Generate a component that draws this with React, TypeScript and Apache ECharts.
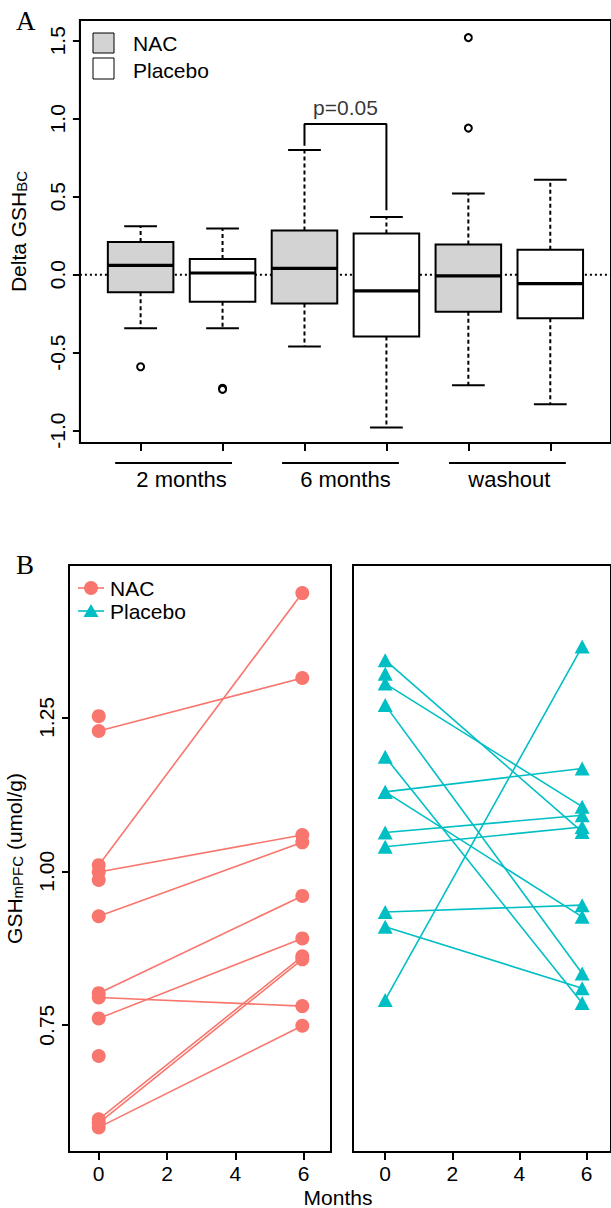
import React, { useEffect, useRef } from "react";
import * as echarts from "echarts";

// ---------- Panel A data ----------
const groupLabels = ["2 months", "6 months", "washout"];
const groupCenters = [1.5, 3.5, 5.5];
const groupSpanStart = [0.8, 2.8, 4.8];
const groupSpanEnd = [2.2, 4.2, 6.2];
const boxPositions = [1, 2, 3, 4, 5, 6];
const boxArm = [0, 1, 0, 1, 0, 1]; // 0 = NAC, 1 = Placebo
const boxLowerWhisker = [-0.343, -0.343, -0.46, -0.98, -0.709, -0.83];
const boxQ1 = [-0.113, -0.174, -0.185, -0.396, -0.238, -0.279];
const boxMedian = [0.06, 0.011, 0.04, -0.104, -0.008, -0.057];
const boxQ3 = [0.21, 0.1, 0.283, 0.264, 0.193, 0.16];
const boxUpperWhisker = [0.31, 0.296, 0.8, 0.37, 0.52, 0.609];
const outlierPos = [1, 2, 2, 5, 5];
const outlierVal = [-0.59, -0.728, -0.735, 0.94, 1.52];
const deltaTicks = [-1, -0.5, 0, 0.5, 1, 1.5];
const bracketX = [3, 3, 4, 4];
const bracketY = [0.826, 0.966, 0.966, 0.413];
const pText = "p=0.05";
const pTextX = 3.5;
const pTextY = 1.074;

// ---------- Panel B data ----------
const nacMonths = [0, 5.96];
const plaMonths = [0, 5.87];
const nacMonth0 = [1.252, 1.228, 1.01, 0.999, 0.986, 0.927, 0.802, 0.795, 0.761, 0.7, 0.597, 0.591, 0.584];
const nacMonth6 = [1.452, 1.314, 1.059, 1.047, 0.96, 0.891, 0.862, 0.857, 0.781, 0.749];
const nacPairStart = [1.228, 1.01, 0.999, 0.927, 0.802, 0.795, 0.761, 0.597, 0.591, 0.584];
const nacPairEnd = [1.314, 1.452, 1.059, 1.047, 0.96, 0.781, 0.891, 0.862, 0.857, 0.749];
const plaMonth0 = [1.343, 1.321, 1.305, 1.27, 1.186, 1.129, 1.129, 1.063, 1.04, 0.934, 0.91, 0.791];
const plaMonth6 = [1.365, 1.167, 1.105, 1.091, 1.072, 1.064, 0.945, 0.926, 0.834, 0.81, 0.786];
const plaPairStart = [0.791, 1.343, 1.305, 1.27, 1.186, 1.129, 1.129, 1.063, 1.04, 0.934, 0.91];
const plaPairEnd = [1.365, 1.064, 1.105, 0.834, 0.786, 1.167, 0.926, 1.091, 1.072, 0.945, 0.81];
const monthTicks = [0, 2, 4, 6];
const gshTicks = [0.75, 1.0, 1.25];

const FONT = "'Liberation Sans', Arial, sans-serif";
const SERIF = "'Liberation Serif', 'Times New Roman', serif";
const NAC_COLOR = "#F8766D";
const PLA_COLOR = "#00BFC4";
const BOX_FILL = ["#D3D3D3", "#FFFFFF"];

const A_XMIN = 0.259, A_XMAX = 6.741, A_YMIN = -1.079, A_YMAX = 1.633;
const B_YMIN = 0.544, B_YMAX = 1.4976;

export default function App() {
  const ref = useRef<HTMLDivElement>(null);
  useEffect(() => {
    if (!ref.current) return;
    document.body.style.margin = "0";
    const chart = echarts.init(ref.current, undefined, { renderer: "svg" });
    const axisLineStyle = { color: "#000", width: 2 };
    const axisLine = { show: true, onZero: false, lineStyle: axisLineStyle };
    const labelBase = { color: "#000", fontSize: 21, fontFamily: FONT };
    const subRich = {
      a: { fontSize: 21, fontFamily: FONT, color: "#000", lineHeight: 21, padding: [0, 0, 10, 0], verticalAlign: "top" },
      b: { fontSize: 15, fontFamily: FONT, color: "#000", lineHeight: 15, verticalAlign: "bottom" },
    };

    const boxData = boxPositions.map((p, i) => [
      p, boxLowerWhisker[i], boxQ1[i], boxMedian[i], boxQ3[i], boxUpperWhisker[i], boxArm[i],
    ]);

    const option: any = {
      animation: false,
      backgroundColor: "#fff",
      grid: [
        { left: 70, top: 20, width: 545, height: 423, show: true, borderColor: "#000", borderWidth: 2, backgroundColor: "transparent" },
        { left: 69, top: 565, width: 262, height: 587, show: true, borderColor: "#000", borderWidth: 2, backgroundColor: "transparent" },
        { left: 353, top: 565, width: 262, height: 587, show: true, borderColor: "#000", borderWidth: 2, backgroundColor: "transparent" },
        { left: 70, top: 463, width: 545, height: 10, show: false },
      ],
      xAxis: [
        {
          gridIndex: 0, type: "value", min: A_XMIN, max: A_XMAX,
          axisLine,
          axisTick: { show: true, customValues: boxPositions, length: 8, lineStyle: axisLineStyle },
          axisLabel: {
            ...labelBase, fontSize: 22, show: true, customValues: groupCenters, margin: 25,
            formatter: (v: number) => groupLabels[groupCenters.indexOf(v)] ?? "",
          },
          splitLine: { show: false },
        },
        {
          gridIndex: 1, type: "value", min: -0.87, max: 6.8,
          axisLine,
          axisTick: { show: true, customValues: monthTicks, length: 8, lineStyle: axisLineStyle },
          axisLabel: { ...labelBase, customValues: monthTicks, margin: 11 },
          splitLine: { show: false },
        },
        {
          gridIndex: 2, type: "value", min: -0.96, max: 6.73,
          axisLine,
          axisTick: { show: true, customValues: monthTicks, length: 8, lineStyle: axisLineStyle },
          axisLabel: { ...labelBase, customValues: monthTicks, margin: 11 },
          splitLine: { show: false },
        },
        { gridIndex: 3, type: "value", min: A_XMIN, max: A_XMAX, show: false },
      ],
      yAxis: [
        {
          gridIndex: 0, type: "value", min: A_YMIN, max: A_YMAX,
          axisLine,
          axisTick: { show: true, customValues: deltaTicks, length: 7, lineStyle: axisLineStyle },
          axisLabel: { ...labelBase, customValues: deltaTicks, rotate: 90, margin: 12, formatter: (v: number) => v.toFixed(1) },
          splitLine: { show: false },
          name: "{a|Delta GSH}{b|BC}",
          nameLocation: "middle", nameRotate: 90, nameGap: 38,
          nameTextStyle: { rich: subRich },
        },
        {
          gridIndex: 1, type: "value", min: B_YMIN, max: B_YMAX,
          axisLine,
          axisTick: { show: true, customValues: gshTicks, length: 7, lineStyle: axisLineStyle },
          axisLabel: { ...labelBase, customValues: gshTicks, rotate: 90, margin: 12, formatter: (v: number) => v.toFixed(2) },
          splitLine: { show: false },
          name: "{a|GSH}{b|mPFC}{a| (umol/g)}",
          nameLocation: "middle", nameRotate: 90, nameGap: 38,
          nameTextStyle: { rich: subRich },
        },
        {
          gridIndex: 2, type: "value", min: B_YMIN, max: B_YMAX,
          axisLine,
          axisTick: { show: false }, axisLabel: { show: false }, splitLine: { show: false },
        },
        { gridIndex: 3, type: "value", min: 0, max: 1, show: false },
      ],
      series: [
        {
          type: "line", xAxisIndex: 0, yAxisIndex: 0, z: 1, silent: true, symbol: "none",
          data: [[A_XMIN, 0], [A_XMAX, 0]],
          lineStyle: { color: "#000", width: 2, type: [2, 3] },
        },
        {
          type: "custom", xAxisIndex: 0, yAxisIndex: 0, z: 2, silent: true,
          data: boxData,
          renderItem: (params: any, api: any) => {
            const x = api.value(0), lw = api.value(1), q1 = api.value(2), md = api.value(3);
            const q3 = api.value(4), uw = api.value(5), arm = api.value(6);
            const c = (a: number, b: number) => api.coord([a, b]);
            const seg = (p1: number[], p2: number[], style: any) => ({
              type: "line", shape: { x1: p1[0], y1: p1[1], x2: p2[0], y2: p2[1] }, style,
            });
            const solid = { stroke: "#000", lineWidth: 2 };
            const dashed = { stroke: "#000", lineWidth: 2, lineDash: [4, 3] };
            const tl = c(x - 0.4, q3), br = c(x + 0.4, q1);
            return {
              type: "group",
              children: [
                seg(c(x, q3), c(x, uw), dashed),
                seg(c(x, q1), c(x, lw), dashed),
                seg(c(x - 0.2, uw), c(x + 0.2, uw), solid),
                seg(c(x - 0.2, lw), c(x + 0.2, lw), solid),
                {
                  type: "rect",
                  shape: { x: tl[0], y: tl[1], width: br[0] - tl[0], height: br[1] - tl[1] },
                  style: { fill: BOX_FILL[arm], stroke: "#000", lineWidth: 2 },
                },
                seg(c(x - 0.4, md), c(x + 0.4, md), { stroke: "#000", lineWidth: 3.2 }),
              ],
            };
          },
        },
        {
          type: "scatter", xAxisIndex: 0, yAxisIndex: 0, z: 4, silent: true,
          symbol: "emptyCircle", symbolSize: 7,
          itemStyle: { color: "#000", borderColor: "#000", borderWidth: 1.7, opacity: 1 },
          data: outlierPos.map((p, i) => [p, outlierVal[i]]),
        },
        {
          type: "line", xAxisIndex: 0, yAxisIndex: 0, z: 3, silent: true, symbol: "none",
          data: bracketX.map((x, i) => [x, bracketY[i]]),
          lineStyle: { color: "#000", width: 2 },
        },
        {
          type: "scatter", xAxisIndex: 0, yAxisIndex: 0, z: 3, silent: true, symbolSize: 0,
          data: [[pTextX, pTextY]],
          label: { show: true, position: "inside", formatter: pText, ...labelBase, textBorderWidth: 0 },
        },
        {
          type: "custom", xAxisIndex: 3, yAxisIndex: 3, silent: true,
          data: groupSpanStart.map((s, i) => [s, groupSpanEnd[i]]),
          renderItem: (params: any, api: any) => {
            const p1 = api.coord([api.value(0), 1]);
            const p2 = api.coord([api.value(1), 1]);
            return { type: "line", shape: { x1: p1[0], y1: p1[1], x2: p2[0], y2: p2[1] }, style: { stroke: "#000", lineWidth: 2 } };
          },
        },
        // Panel B
        {
          type: "lines", coordinateSystem: "cartesian2d", xAxisIndex: 1, yAxisIndex: 1, z: 2, silent: true,
          lineStyle: { color: NAC_COLOR, width: 1.6, opacity: 1 },
          data: nacPairStart.map((s, i) => ({ coords: [[nacMonths[0], s], [nacMonths[1], nacPairEnd[i]]] })),
        },
        {
          type: "scatter", xAxisIndex: 1, yAxisIndex: 1, z: 3, silent: true,
          symbol: "circle", symbolSize: 14, itemStyle: { color: NAC_COLOR, opacity: 1 },
          data: [
            ...nacMonth0.map((v) => [nacMonths[0], v]),
            ...nacMonth6.map((v) => [nacMonths[1], v]),
          ],
        },
        {
          type: "lines", coordinateSystem: "cartesian2d", xAxisIndex: 2, yAxisIndex: 2, z: 2, silent: true,
          lineStyle: { color: PLA_COLOR, width: 1.6, opacity: 1 },
          data: plaPairStart.map((s, i) => ({ coords: [[plaMonths[0], s], [plaMonths[1], plaPairEnd[i]]] })),
        },
        {
          type: "scatter", xAxisIndex: 2, yAxisIndex: 2, z: 3, silent: true,
          symbol: "triangle", symbolSize: [15, 14], itemStyle: { color: PLA_COLOR, opacity: 1 },
          data: [
            ...plaMonth0.map((v) => [plaMonths[0], v]),
            ...plaMonth6.map((v) => [plaMonths[1], v]),
          ],
        },
      ],
      graphic: [
        { type: "text", left: 16, top: 7, style: { text: "A", fontSize: 27, fontFamily: SERIF, fill: "#000" } },
        { type: "text", left: 16, top: 551, style: { text: "B", fontSize: 27, fontFamily: SERIF, fill: "#000" } },
        // Legend A
        { type: "rect", shape: { x: 93, y: 33, width: 21, height: 20 }, style: { fill: BOX_FILL[0], stroke: "#000", lineWidth: 1 } },
        { type: "rect", shape: { x: 93, y: 58, width: 21, height: 21 }, style: { fill: BOX_FILL[1], stroke: "#000", lineWidth: 1 } },
        { type: "text", x: 133, y: 43, style: { text: "NAC", fontSize: 21, fontFamily: FONT, fill: "#000", verticalAlign: "middle" } },
        { type: "text", x: 133, y: 70, style: { text: "Placebo", fontSize: 21, fontFamily: FONT, fill: "#000", verticalAlign: "middle" } },
        // Legend B
        { type: "line", shape: { x1: 78, y1: 588, x2: 104, y2: 588 }, style: { stroke: NAC_COLOR, lineWidth: 1.6 } },
        { type: "circle", shape: { cx: 91, cy: 588, r: 7 }, style: { fill: NAC_COLOR } },
        { type: "text", x: 110, y: 588, style: { text: "NAC", fontSize: 21, fontFamily: FONT, fill: "#000", verticalAlign: "middle" } },
        { type: "line", shape: { x1: 78, y1: 611, x2: 104, y2: 611 }, style: { stroke: PLA_COLOR, lineWidth: 1.6 } },
        { type: "polygon", shape: { points: [[91, 604], [98.5, 617], [83.5, 617]] }, style: { fill: PLA_COLOR } },
        { type: "text", x: 110, y: 611, style: { text: "Placebo", fontSize: 21, fontFamily: FONT, fill: "#000", verticalAlign: "middle" } },
        // Shared x title
        { type: "text", x: 338, y: 1197, style: { text: "Months", fontSize: 21, fontFamily: FONT, fill: "#000", align: "center", verticalAlign: "middle" } },
      ],
    };
    chart.setOption(option);
    return () => chart.dispose();
  }, []);
  return (
    <div
      ref={ref}
      style={{ position: "absolute", left: 0, top: 0, width: 611, height: 1208, overflow: "hidden" }}
    />
  );
}
